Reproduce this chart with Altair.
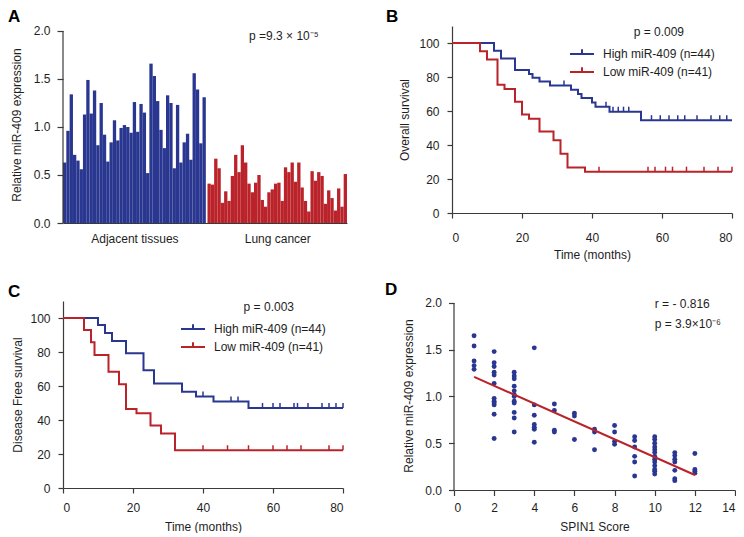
import altair as alt
import pandas as pd

# ---------------- data ----------------
# Panel A: relative miR-409 expression per sample
group_labels = ["Adjacent tissues", "Lung cancer"]
adjacent_values = [0.63, 0.96, 1.34, 0.71, 0.65, 0.56, 1.13, 1.49, 1.14, 1.38, 0.81,
                   1.25, 0.92, 0.64, 0.84, 1.07, 0.86, 0.99, 1.02, 1.00, 0.94, 1.26,
                   0.95, 1.24, 1.15, 0.52, 1.66, 1.53, 1.27, 0.97, 0.78, 1.33, 1.25,
                   0.57, 1.23, 0.63, 0.84, 0.93, 0.66, 1.56, 1.39, 0.83, 1.31]
cancer_values = [0.41, 0.40, 0.67, 0.57, 0.21, 0.33, 0.23, 0.49, 0.71, 0.53, 0.81,
                 0.63, 0.41, 0.32, 0.42, 0.50, 0.24, 0.17, 0.32, 0.35, 0.41, 0.42,
                 0.23, 0.58, 0.53, 0.63, 0.43, 0.63, 0.37, 0.23, 0.12, 0.54, 0.44,
                 0.53, 0.49, 0.20, 0.34, 0.26, 0.13, 0.36, 0.17, 0.51]
text_a = "p =9.3 × 10⁻⁵"

# Panels B / C: Kaplan-Meier curves
series_labels = ["High miR-409 (n=44)", "Low miR-409 (n=41)"]
km_y_ticks = [0, 20, 40, 60, 80, 100]
km_x_ticks = [0, 20, 40, 60, 80]

os_high_t = [0, 12, 14, 18, 22, 23, 25, 28, 34, 36, 37, 40, 41, 45, 54, 80]
os_high_s = [100, 95.5, 90.9, 84.1, 81.8, 79.5, 77.3, 75.0, 72.5, 70.0, 67.6, 65.0,
             62.5, 59.6, 54.6, 54.6]
os_high_cens = [32, 44, 46, 47.5, 49, 50.5, 57, 59.5, 62, 64.5, 66.5, 70, 74, 76.5, 78.5]
os_low_t = [0, 8, 10, 13, 15, 18, 20, 22, 25, 29, 31, 33, 38, 80]
os_low_s = [100, 95.2, 90.3, 75.4, 73.0, 65.5, 58.0, 55.5, 48.0, 42.8, 34.8, 26.8,
            24.3, 24.3]
os_low_cens = [42, 56, 58, 61, 63, 67, 72, 76, 80]
text_b = "p = 0.009"

dfs_high_t = [0, 10, 12, 14, 18, 23, 26, 34, 38, 43, 53, 80]
dfs_high_s = [100, 95.9, 91.2, 86.4, 79.3, 69.3, 61.4, 56.6, 53.8, 50.9, 47.1, 47.1]
dfs_high_cens = [40, 48, 50, 57, 60, 62, 66, 67, 70, 74, 76, 78, 80]
dfs_low_t = [0, 6, 8, 9, 13, 16, 18, 21, 25, 28, 32, 80]
dfs_low_s = [100, 92.9, 85.7, 78.2, 68.4, 61.0, 46.5, 43.9, 36.7, 32.0, 22.2, 22.2]
dfs_low_cens = [40, 47, 53, 60, 64, 68, 76, 80]
text_c = "p = 0.003"

# Panel D: SPIN1 score vs expression
spin_score = ([1] * 5 + [2] * 12 + [3] * 12 + [4] * 7 + [5] * 4 + [6] * 3 + [7] * 3 +
              [8] * 4 + [9] * 6 + [10] * 13 + [11] * 7 + [12] * 4)
spin_expr = [1.65, 1.54, 1.38, 1.33, 1.29,
             1.48, 1.36, 1.32, 1.26, 1.23, 1.14, 0.98, 0.95, 0.93, 0.91, 0.81, 0.55,
             1.26, 1.22, 1.19, 1.11, 1.06, 1.02, 1.00, 0.95, 0.93, 0.83, 0.77, 0.62,
             1.52, 0.91, 0.80, 0.70, 0.67, 0.65, 0.51,
             0.92, 0.85, 0.64, 0.62,
             0.82, 0.79, 0.54,
             0.65, 0.62, 0.43,
             0.69, 0.62, 0.52, 0.49,
             0.57, 0.53, 0.46, 0.36, 0.30, 0.15,
             0.57, 0.54, 0.50, 0.46, 0.43, 0.40, 0.36, 0.33, 0.30, 0.26, 0.22, 0.20, 0.17,
             0.40, 0.37, 0.33, 0.30, 0.21, 0.12, 0.10,
             0.39, 0.22, 0.20, 0.18]
fit_x = [1, 12]
fit_y = [1.21, 0.16]
text_d1 = "r = - 0.816"
text_d2 = "p = 3.9×10⁻⁶"

# ---------------- style ----------------
BLUE = "#2A3790"
RED = "#BA232A"
INK = "#1e1e1e"
AXIS = "#3a3a3a"
FONT = "Liberation Sans"


def one_row():
    return pd.DataFrame({"k": [0]})


def letter(ch, dx, dy):
    return alt.Chart(one_row()).mark_text(
        text=ch, fontSize=17, fontWeight="bold", align="left", baseline="top",
        font=FONT, color="black"
    ).encode(x=alt.value(dx), y=alt.value(dy))


def note(txt, xv, yv, sx, sy, align="left"):
    return alt.Chart(one_row()).mark_text(
        text=txt, fontSize=12, align=align, baseline="middle", font=FONT, color=INK
    ).encode(x=alt.XDatum(xv, scale=sx), y=alt.YDatum(yv, scale=sy))


def y_axis_line(top, sx, sy):
    # axis line that stops at the last tick, as in the figure
    return alt.Chart(one_row()).mark_rule(color=AXIS, strokeWidth=1.2).encode(
        x=alt.XDatum(0, scale=sx), y=alt.YDatum(0, scale=sy), y2=alt.datum(top))


# ---------------- panel A ----------------
gap = 0.5
rows = []
for i, v in enumerate(adjacent_values):
    rows.append({"start": i, "end": i + 1, "value": v, "tissue": group_labels[0]})
off = len(adjacent_values) + gap
for j, v in enumerate(cancer_values):
    rows.append({"start": off + j, "end": off + j + 1, "value": v, "tissue": group_labels[1]})
bars_df = pd.DataFrame(rows)
n_total = off + len(cancer_values)
centers = [len(adjacent_values) / 2, off + len(cancer_values) / 2]

sxA = alt.Scale(domain=[0, n_total], nice=False, zero=False)
syA = alt.Scale(domain=[0, 2.052], nice=False)

barsA = alt.Chart(bars_df).mark_rect(strokeWidth=0).encode(
    x=alt.X("start:Q", scale=sxA,
            axis=alt.Axis(values=centers, ticks=False, labelPadding=10, title=None,
                          labelOverlap=False, tickCount=10,
                          labelExpr=f"datum.value < {off} ? '{group_labels[0]}' : '{group_labels[1]}'")),
    x2="end:Q",
    y=alt.Y("value:Q", scale=syA,
            axis=alt.Axis(values=[0, 0.5, 1, 1.5, 2], format=".1f", tickSize=6,
                          labelPadding=7, titlePadding=10, domain=False,
                          labelOverlap=False, tickCount=10,
                          title="Relative miR-409 expression")),
    y2=alt.datum(0),
    color=alt.Color("tissue:N", scale=alt.Scale(domain=group_labels, range=[BLUE, RED]),
                    legend=None),
)
panelA = alt.layer(
    barsA, y_axis_line(2, sxA, syA), note(text_a, 56, 1.95, sxA, syA),
    letter("A", -55, -17)
).properties(width=284, height=197)


# ---------------- KM panels ----------------
def step_value(ts, ss, c):
    val = ss[0]
    for t, s in zip(ts, ss):
        if t <= c:
            val = s
    return val


def km_panel(ht, hs, hc, lt, ls, lc, ytitle, ptxt, ptx, lab, ldx, ldy, height,
             xlabpad, xtitlepad, ytitlepad):
    curves = pd.concat([
        pd.DataFrame({"t": ht, "s": hs, "group": series_labels[0]}),
        pd.DataFrame({"t": lt, "s": ls, "group": series_labels[1]}),
    ])
    cens_h = pd.DataFrame({"t": hc, "s": [step_value(ht, hs, c) for c in hc]})
    cens_l = pd.DataFrame({"t": lc, "s": [step_value(lt, ls, c) for c in lc]})
    sx = alt.Scale(domain=[0, 80], nice=False)
    sy = alt.Scale(domain=[0, 110], nice=False)
    lines = alt.Chart(curves).mark_line(interpolate="step-after", strokeWidth=2).encode(
        x=alt.X("t:Q", scale=sx,
                axis=alt.Axis(values=km_x_ticks, tickSize=5, tickCount=10,
                              labelPadding=xlabpad, titlePadding=xtitlepad,
                              labelOverlap=False, title="Time (months)")),
        y=alt.Y("s:Q", scale=sy,
                axis=alt.Axis(values=km_y_ticks, tickSize=5, tickCount=10,
                              labelPadding=8, titlePadding=ytitlepad,
                              labelOverlap=False, title=ytitle)),
        color=alt.Color("group:N",
                        scale=alt.Scale(domain=series_labels, range=[BLUE, RED]),
                        legend=alt.Legend(title=None, orient="none", legendX=123,
                                          legendY=21, direction="vertical",
                                          symbolType="M-2,0H2M0,0V-0.8", symbolSize=144,
                                          symbolStrokeWidth=2, labelFontSize=12,
                                          labelFont=FONT, labelColor=INK,
                                          labelOffset=14, rowPadding=3, padding=0,
                                          labelLimit=300)),
        order="t:Q",
    )
    ch = alt.Chart(cens_h).mark_point(shape="M0,0V-1", size=100, strokeWidth=1.5,
                                      filled=False, opacity=1, color=BLUE).encode(
        x=alt.X("t:Q", scale=sx), y=alt.Y("s:Q", scale=sy))
    cl = alt.Chart(cens_l).mark_point(shape="M0,0V-1", size=100, strokeWidth=1.5,
                                      filled=False, opacity=1, color=RED).encode(
        x=alt.X("t:Q", scale=sx), y=alt.Y("s:Q", scale=sy))
    return alt.layer(
        lines, ch, cl, note(ptxt, ptx, 106.3, sx, sy, align="center"),
        letter(lab, ldx, ldy)
    ).properties(width=280, height=height)


panelB = km_panel(os_high_t, os_high_s, os_high_cens, os_low_t, os_low_s, os_low_cens,
                  "Overall survival", text_b, 59.1, "B", -66, -17, 187, 14, 6, 7)
panelC = km_panel(dfs_high_t, dfs_high_s, dfs_high_cens, dfs_low_t, dfs_low_s,
                  dfs_low_cens, "Disease Free survival", text_c, 58.8, "C", -55, -17,
                  187, 9, 8, 5)

# ---------------- panel D ----------------
sxD = alt.Scale(domain=[0, 14], nice=False)
syD = alt.Scale(domain=[0, 2.021], nice=False)
scatter = alt.Chart(pd.DataFrame({"score": spin_score, "expr": spin_expr})).mark_circle(
    size=24, color=BLUE, opacity=1).encode(
    x=alt.X("score:Q", scale=sxD,
            axis=alt.Axis(values=list(range(0, 15, 2)), tickSize=5.5, labelPadding=7,
                          labelOverlap=False, tickCount=10, titlePadding=8,
                          title="SPIN1 Score")),
    y=alt.Y("expr:Q", scale=syD,
            axis=alt.Axis(values=[0, 0.5, 1, 1.5, 2], format=".1f", tickSize=5.5,
                          labelPadding=7, titlePadding=9, domain=False,
                          labelOverlap=False, tickCount=10,
                          title="Relative miR-409 expression")),
)
fit = alt.Chart(pd.DataFrame({"score": fit_x, "expr": fit_y})).mark_line(
    color=RED, strokeWidth=2).encode(x=alt.X("score:Q", scale=sxD),
                                     y=alt.Y("expr:Q", scale=syD))
panelD = alt.layer(
    scatter, fit, y_axis_line(2, sxD, syD),
    note(text_d1, 10, 1.99, sxD, syD), note(text_d2, 10, 1.78, sxD, syD),
    letter("D", -69, -19)
).properties(width=281, height=189)

# ---------------- assemble ----------------
top = alt.hconcat(panelA, panelB, spacing=39).resolve_scale(color="independent")
bottom = alt.hconcat(panelC, panelD, spacing=38).resolve_scale(color="independent")
chart = alt.vconcat(top, bottom, spacing=21).resolve_scale(
    color="independent").properties(padding=0, background="white").configure_view(
    stroke=None).configure_axis(
    grid=False, labelFont=FONT, titleFont=FONT, labelFontSize=12, titleFontSize=12,
    titleFontWeight="normal", labelColor=INK, titleColor=INK, domainColor=AXIS,
    tickColor=AXIS, domainWidth=1.2, tickWidth=1.2, labelOverlap=False)

chart.save("out.html", embed_options={"renderer": "svg", "actions": False})
